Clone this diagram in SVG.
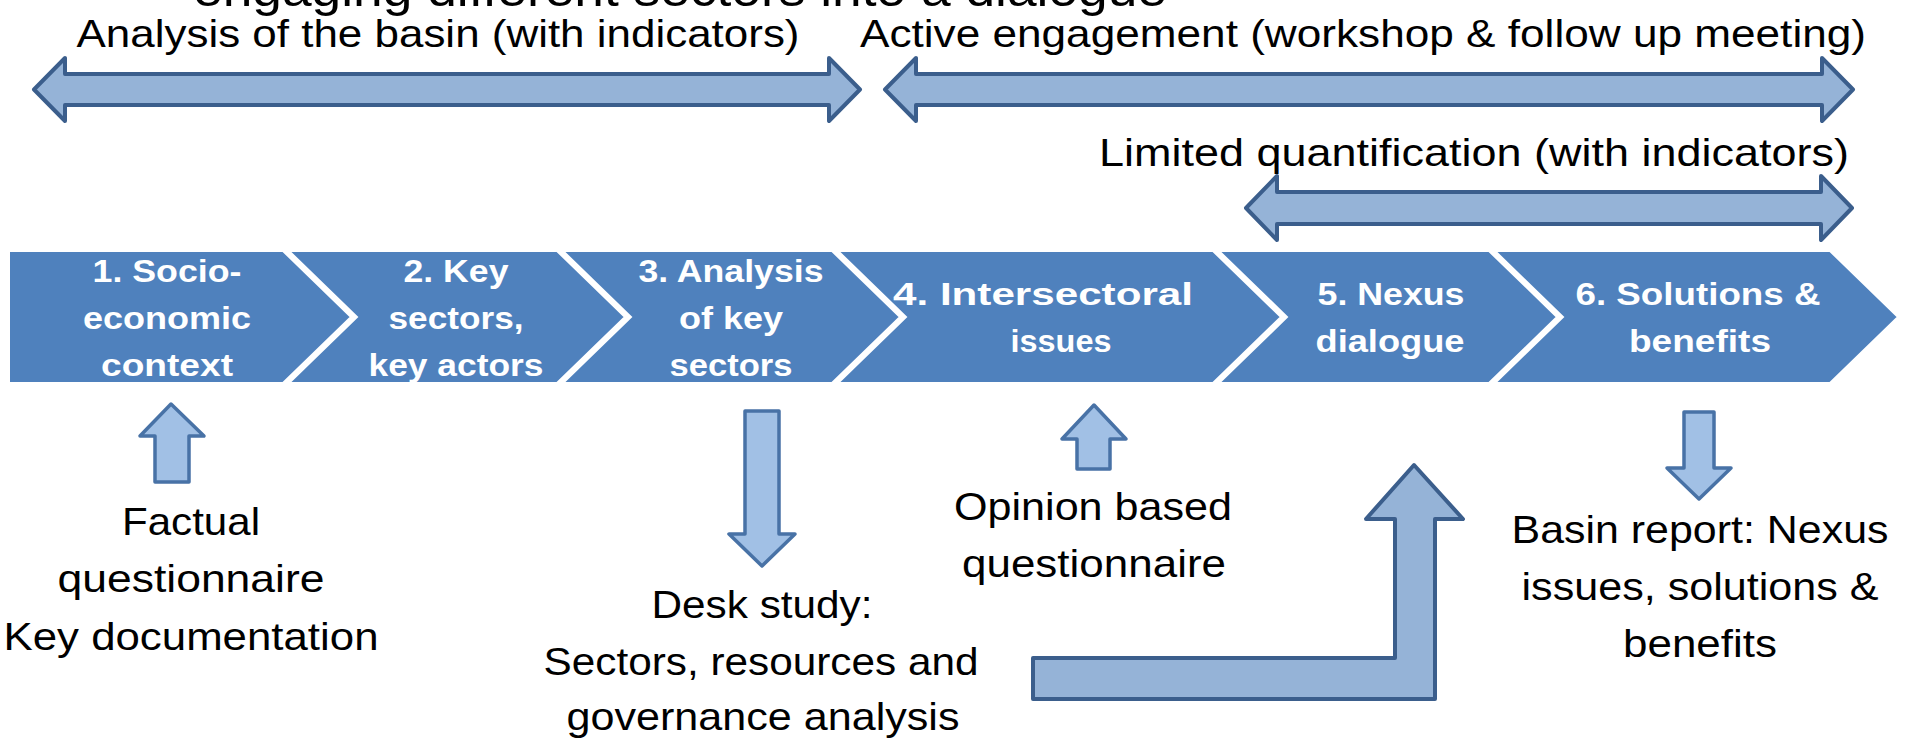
<svg xmlns="http://www.w3.org/2000/svg" width="1905" height="741" viewBox="0 0 1905 741">
<style>
.lbl{font-family:"Liberation Sans",Arial,sans-serif;font-size:39px;fill:#000;text-anchor:middle}
.ttl{font-family:"Liberation Sans",Arial,sans-serif;font-size:48px;fill:#000;text-anchor:middle}
.chv{fill:#4F81BD;stroke:#FFFFFF;stroke-width:2}
.ct{font-family:"Liberation Sans",Arial,sans-serif;font-size:32px;font-weight:bold;fill:#FFFFFF;text-anchor:middle}
.big{fill:#95B3D7;stroke:#3B5E8C;stroke-width:4;stroke-linejoin:round}
.sm{fill:#A1C0E5;stroke:#4872A6;stroke-width:3.5;stroke-linejoin:round}
</style>
<rect width="1905" height="741" fill="#FFFFFF"/>

<g id="title">
<text class="ttl" x="680" y="6" textLength="974" lengthAdjust="spacingAndGlyphs">engaging different sectors into a dialogue</text>
</g>

<g id="phase-analysis">
<text class="lbl" x="438" y="47" textLength="723" lengthAdjust="spacingAndGlyphs">Analysis of the basin (with indicators)</text>
</g>
<g id="phase-engagement">
<text class="lbl" x="1363" y="47" textLength="1006" lengthAdjust="spacingAndGlyphs">Active engagement (workshop &amp; follow up meeting)</text>
</g>
<g id="phase-quantification">
<text class="lbl" x="1474" y="166" textLength="750" lengthAdjust="spacingAndGlyphs">Limited quantification (with indicators)</text>
</g>

<g id="step1">
<polygon class="chv" points="9,251 283,251 351,317 283,383 9,383"/>
<text class="ct" x="167" y="282" textLength="149" lengthAdjust="spacingAndGlyphs">1. Socio-</text>
<text class="ct" x="167" y="329" textLength="168" lengthAdjust="spacingAndGlyphs">economic</text>
<text class="ct" x="167" y="376" textLength="132" lengthAdjust="spacingAndGlyphs">context</text>
</g>
<g id="step2">
<polygon class="chv" points="289,251 557,251 625,317 557,383 289,383 357,317"/>
<text class="ct" x="456" y="282" textLength="105" lengthAdjust="spacingAndGlyphs">2. Key</text>
<text class="ct" x="456" y="329" textLength="135" lengthAdjust="spacingAndGlyphs">sectors,</text>
<text class="ct" x="456" y="376" textLength="175" lengthAdjust="spacingAndGlyphs">key actors</text>
</g>
<g id="step3">
<polygon class="chv" points="563,251 832,251 900,317 832,383 563,383 631,317"/>
<text class="ct" x="731" y="282" textLength="185" lengthAdjust="spacingAndGlyphs">3. Analysis</text>
<text class="ct" x="731" y="329" textLength="104" lengthAdjust="spacingAndGlyphs">of key</text>
<text class="ct" x="731" y="376" textLength="123" lengthAdjust="spacingAndGlyphs">sectors</text>
</g>
<g id="step4">
<polygon class="chv" points="838,251 1213,251 1281,317 1213,383 838,383 906,317"/>
<text class="ct" x="1043" y="305" textLength="300" lengthAdjust="spacingAndGlyphs">4. Intersectoral</text>
<text class="ct" x="1061" y="352" textLength="101" lengthAdjust="spacingAndGlyphs">issues</text>
</g>
<g id="step5">
<polygon class="chv" points="1219,251 1489,251 1557,317 1489,383 1219,383 1287,317"/>
<text class="ct" x="1391" y="305" textLength="147" lengthAdjust="spacingAndGlyphs">5. Nexus</text>
<text class="ct" x="1390" y="352" textLength="149" lengthAdjust="spacingAndGlyphs">dialogue</text>
</g>
<g id="step6">
<polygon class="chv" points="1495,251 1830,251 1898,317 1830,383 1495,383 1563,317"/>
<text class="ct" x="1698" y="305" textLength="245" lengthAdjust="spacingAndGlyphs">6. Solutions &amp;</text>
<text class="ct" x="1700" y="352" textLength="142" lengthAdjust="spacingAndGlyphs">benefits</text>
</g>

<g id="input-factual">
<text class="lbl" x="191" y="535" textLength="138" lengthAdjust="spacingAndGlyphs">Factual</text>
<text class="lbl" x="191" y="592" textLength="267" lengthAdjust="spacingAndGlyphs">questionnaire</text>
<text class="lbl" x="191" y="650" textLength="375" lengthAdjust="spacingAndGlyphs">Key documentation</text>
</g>
<g id="output-desk">
<text class="lbl" x="762" y="618" textLength="221" lengthAdjust="spacingAndGlyphs">Desk study:</text>
<text class="lbl" x="761" y="675" textLength="435" lengthAdjust="spacingAndGlyphs">Sectors, resources and</text>
<text class="lbl" x="763" y="730" textLength="393" lengthAdjust="spacingAndGlyphs">governance analysis</text>
</g>
<g id="input-opinion">
<text class="lbl" x="1093" y="520" textLength="278" lengthAdjust="spacingAndGlyphs">Opinion based</text>
<text class="lbl" x="1094" y="577" textLength="264" lengthAdjust="spacingAndGlyphs">questionnaire</text>
</g>
<g id="output-basin">
<text class="lbl" x="1700" y="543" textLength="377" lengthAdjust="spacingAndGlyphs">Basin report: Nexus</text>
<text class="lbl" x="1700" y="600" textLength="357" lengthAdjust="spacingAndGlyphs">issues, solutions &amp;</text>
<text class="lbl" x="1700" y="657" textLength="154" lengthAdjust="spacingAndGlyphs">benefits</text>
</g>

<g id="connectors">
<polygon class="big" points="34,89.5 65,58 65,74 829,74 829,58 860,89.5 829,121 829,105 65,105 65,121"/>
<polygon class="big" points="885,89.5 916,58 916,74 1822,74 1822,58 1853,89.5 1822,121 1822,105 916,105 916,121"/>
<polygon class="big" points="1246,208 1277,176 1277,192 1821,192 1821,176 1852,208 1821,240 1821,224 1277,224 1277,240"/>
<polygon class="sm" points="171,404 204,436 189,436 189,482 155,482 155,436 140,436"/>
<polygon class="sm" points="745,411 779,411 779,534 795,534 762,566 729,534 745,534"/>
<polygon class="sm" points="1094,405 1126,439 1110,439 1110,469 1077,469 1077,439 1062,439"/>
<polygon class="sm" points="1684,412 1714,412 1714,468 1731,468 1699,499 1667,468 1684,468"/>
<polygon class="big" points="1033,658 1395,658 1395,519 1366,519 1414,465 1463,519 1435,519 1435,699 1033,699"/>
</g>
</svg>
